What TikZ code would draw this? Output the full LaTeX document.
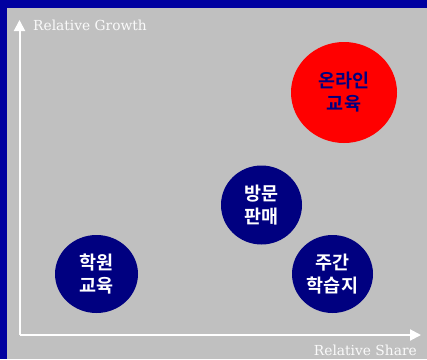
\documentclass[tikz,border=0pt]{standalone}
\usepackage{fontspec}
\setmainfont{DejaVu Serif}
\newfontfamily\kofont{Noto Sans CJK KR Bold}
\usetikzlibrary{arrows.meta}
\definecolor{framecol}{RGB}{0,0,160}
\definecolor{bgcol}{RGB}{192,192,192}
\definecolor{navycol}{RGB}{0,0,128}
\definecolor{axiscol}{RGB}{255,255,255}
\tikzset{
  axis/.style={draw=axiscol, line width=2pt, -{Triangle[length=11pt,width=11pt]}},
  axlabel/.style={text=axiscol!92!bgcol, font=\fontsize{13.8}{16}\selectfont, inner sep=0pt},
  bubble/.style={ellipse, inner sep=0pt, align=center, font=\kofont\fontsize{18.5}{23}\selectfont},
  navybubble/.style={bubble, fill=navycol, text=white},
  redbubble/.style={bubble, fill=red, text=navycol},
}
\usetikzlibrary{shapes.geometric}
\begin{document}
\begin{tikzpicture}[x=1pt,y=-1pt]
\fill[framecol] (0,0) rectangle (427,359);
\fill[bgcol] (7,8) rectangle (427,359);
\useasboundingbox (0,0) rectangle (427,359);
\coordinate (origin) at (19.5,335);
\coordinate (ytip) at (19.5,20);
\coordinate (xtip) at (421,335);
\draw[axis] (origin) -- (ytip);
\draw[axis] (origin) -- (xtip);
\node[axlabel, anchor=base west] (ylab) at (33,30) {Relative Growth};
\node[axlabel, anchor=base east] (xlab) at (417,355) {Relative Share};
\node[redbubble, minimum width=106pt, minimum height=101pt] (online) at (344,92.5) {온라인\\교육};
\node[navybubble, minimum width=81pt, minimum height=79pt] (visit) at (261.5,205) {방문\\판매};
\node[navybubble, minimum width=83pt, minimum height=78pt] (academy) at (96.5,274) {학원\\교육};
\node[navybubble, minimum width=81pt, minimum height=78pt] (weekly) at (332.5,274) {주간\\학습지};
\end{tikzpicture}
\end{document}
